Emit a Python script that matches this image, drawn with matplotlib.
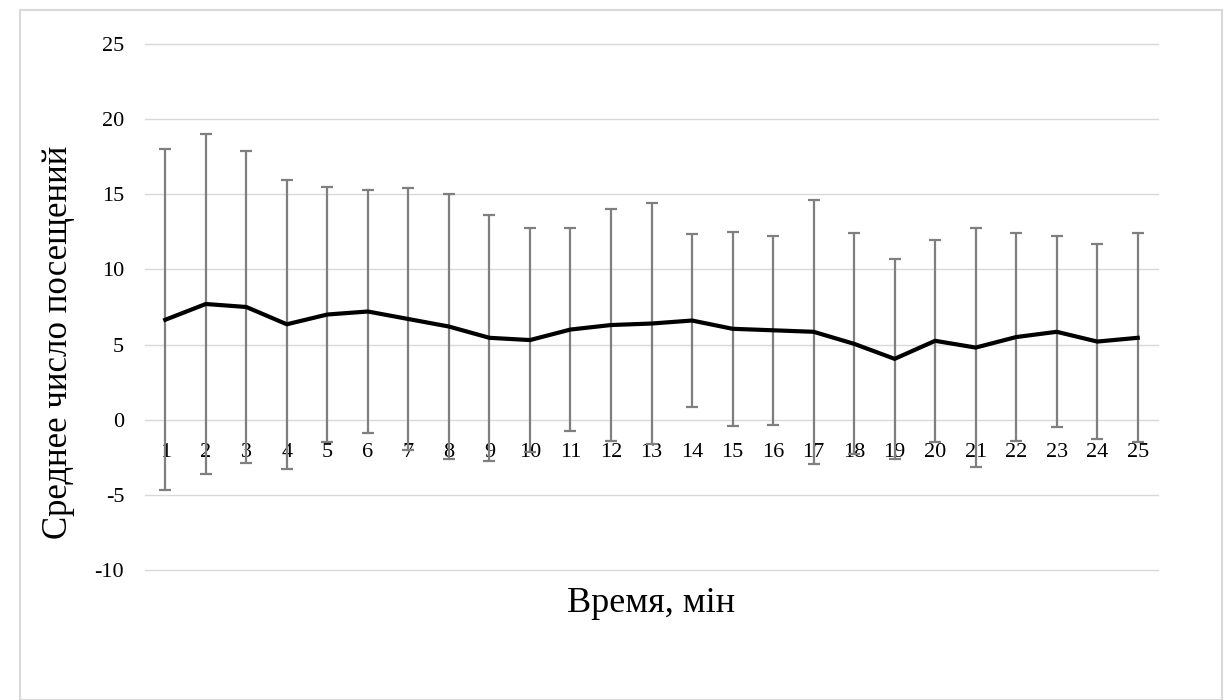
import matplotlib.pyplot as plt
from matplotlib.patches import Rectangle

# Time points (minutes), mean visits and standard deviation
minutes = list(range(1, 26))
mean_visits = [6.65, 7.7, 7.5, 6.35, 7.0, 7.2, 6.7, 6.2, 5.45, 5.3,
               6.0, 6.3, 6.4, 6.6, 6.05, 5.95, 5.85, 5.05, 4.05, 5.25,
               4.8, 5.5, 5.85, 5.2, 5.45]
sd_visits = [11.35, 11.3, 10.4, 9.6, 8.5, 8.1, 8.7, 8.8, 8.2, 7.45,
             6.75, 7.7, 8.0, 5.75, 6.45, 6.3, 8.8, 7.35, 6.65, 6.7,
             7.95, 6.9, 6.35, 6.5, 6.95]
y_ticks = [-10, -5, 0, 5, 10, 15, 20, 25]

plt.rcParams['font.family'] = ['Liberation Serif', 'DejaVu Serif']

fig = plt.figure(figsize=(12.24, 7), dpi=100)
ax = fig.add_axes([145 / 1224, 1 - 570 / 700, (1158 - 145) / 1224, (570 - 44) / 700])

# chart area border
fig.patches.append(Rectangle((20 / 1224, 0.0), 1 - 20 / 1224 - 0.002, 1 - 10 / 700,
                             transform=fig.transFigure, fill=False,
                             edgecolor='#d9d9d9', linewidth=1.5))

for t in y_ticks:
    ax.axhline(t, color='#d9d9d9', linewidth=1, zorder=0, clip_on=False)

ax.errorbar(minutes, mean_visits, yerr=sd_visits, fmt='none',
            ecolor='#7f7f7f', elinewidth=1.6, capsize=4, capthick=1.6, zorder=2)
ax.plot(minutes, mean_visits, color='black', linewidth=3, zorder=3)

# category labels sit on the zero line (set position before ticks, it resets them)
for s in ax.spines.values():
    s.set_visible(False)
ax.spines['bottom'].set_position(('data', 0))

ax.set_xlim(0.5, 25.5)
ax.set_ylim(-10, 25)
ax.set_yticks(y_ticks)
ax.set_yticklabels([str(t) for t in y_ticks], fontsize=16)
ax.set_xticks(minutes)
ax.set_xticklabels([str(m) for m in minutes], fontsize=16)
ax.tick_params(axis='y', length=0, pad=15)
ax.tick_params(axis='x', length=0, pad=17)

fig.text(59 / 1224, 1 - 342 / 700, 'Среднее число посещений', fontsize=25,
         rotation=90, ha='center', va='center')
fig.text(651 / 1224, 1 - 603 / 700, 'Время, мін', fontsize=26,
         ha='center', va='center')

fig.savefig('out.png', dpi=100)
